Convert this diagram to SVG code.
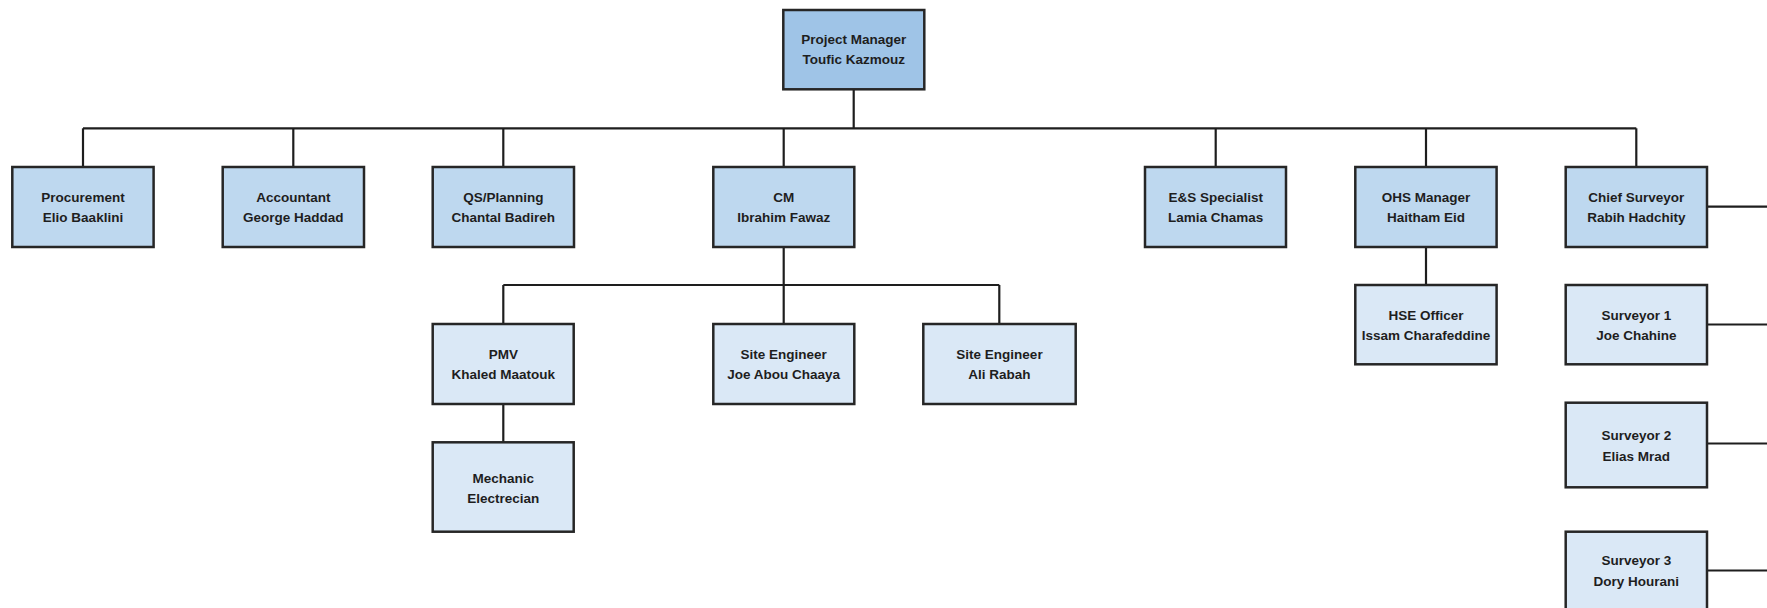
<svg xmlns="http://www.w3.org/2000/svg" width="1767" height="608" viewBox="0 0 1767 608">
<style>
.box{stroke:#262626;stroke-width:2.5}
.top{fill:#9fc4e7}
.l1{fill:#bed8ef}
.l2{fill:#dae8f6}
.lbl{font-family:"Liberation Sans",Arial,sans-serif;font-weight:bold;font-size:13.5px;fill:#1e1e1e;text-anchor:middle}
.conn{stroke:#1e1e1e;stroke-width:2.2;fill:none}
</style>
<rect width="1767" height="608" fill="#ffffff"/>
<g id="connectors" class="conn">
<line x1="853.7" y1="89" x2="853.7" y2="128.3"/>
<line x1="83" y1="128.3" x2="1636.3" y2="128.3"/>
<line x1="83" y1="128.3" x2="83" y2="167"/>
<line x1="293.3" y1="128.3" x2="293.3" y2="167"/>
<line x1="503.3" y1="128.3" x2="503.3" y2="167"/>
<line x1="783.7" y1="128.3" x2="783.7" y2="167"/>
<line x1="1215.7" y1="128.3" x2="1215.7" y2="167"/>
<line x1="1426" y1="128.3" x2="1426" y2="167"/>
<line x1="1636.3" y1="128.3" x2="1636.3" y2="167"/>
<line x1="783.7" y1="247" x2="783.7" y2="324"/>
<line x1="503.3" y1="285" x2="999.3" y2="285"/>
<line x1="503.3" y1="285" x2="503.3" y2="324"/>
<line x1="999.3" y1="285" x2="999.3" y2="324"/>
<line x1="503.3" y1="404" x2="503.3" y2="442.3"/>
<line x1="1426" y1="247" x2="1426" y2="285"/>
<line x1="1707" y1="206.7" x2="1767" y2="206.7"/>
<line x1="1707" y1="324.5" x2="1767" y2="324.5"/>
<line x1="1707" y1="443.5" x2="1767" y2="443.5"/>
<line x1="1707" y1="570.5" x2="1767" y2="570.5"/>
</g>
<g id="pm"><rect class="box top" x="783.3" y="10" width="141" height="79.3"/><text class="lbl" x="853.8" y="43.5">Project Manager</text><text class="lbl" x="853.8" y="64.3">Toufic Kazmouz</text></g>
<g id="procurement"><rect class="box l1" x="12.3" y="167" width="141.3" height="80"/><text class="lbl" x="83" y="201.7">Procurement</text><text class="lbl" x="83" y="222.3">Elio Baaklini</text></g>
<g id="accountant"><rect class="box l1" x="222.7" y="167" width="141.3" height="80"/><text class="lbl" x="293.3" y="201.7">Accountant</text><text class="lbl" x="293.3" y="222.3">George Haddad</text></g>
<g id="qs"><rect class="box l1" x="432.7" y="167" width="141.3" height="80"/><text class="lbl" x="503.3" y="201.7">QS/Planning</text><text class="lbl" x="503.3" y="222.3">Chantal Badireh</text></g>
<g id="cm"><rect class="box l1" x="713.3" y="167" width="141" height="80"/><text class="lbl" x="783.7" y="201.7">CM</text><text class="lbl" x="783.7" y="222.3">Ibrahim Fawaz</text></g>
<g id="es"><rect class="box l1" x="1145" y="167" width="141" height="80"/><text class="lbl" x="1215.7" y="201.7">E&amp;S Specialist</text><text class="lbl" x="1215.7" y="222.3">Lamia Chamas</text></g>
<g id="ohs"><rect class="box l1" x="1355.3" y="167" width="141.3" height="80"/><text class="lbl" x="1426" y="201.7">OHS Manager</text><text class="lbl" x="1426" y="222.3">Haitham Eid</text></g>
<g id="chief"><rect class="box l1" x="1565.7" y="167" width="141.3" height="80"/><text class="lbl" x="1636.3" y="201.7">Chief Surveyor</text><text class="lbl" x="1636.3" y="222.3">Rabih Hadchity</text></g>
<g id="pmv"><rect class="box l2" x="432.7" y="324" width="141" height="80"/><text class="lbl" x="503.3" y="358.7">PMV</text><text class="lbl" x="503.3" y="379.3">Khaled Maatouk</text></g>
<g id="site1"><rect class="box l2" x="713.3" y="324" width="141" height="80"/><text class="lbl" x="783.7" y="358.7">Site Engineer</text><text class="lbl" x="783.7" y="379.3">Joe Abou Chaaya</text></g>
<g id="site2"><rect class="box l2" x="923.3" y="324" width="152.4" height="80"/><text class="lbl" x="999.5" y="358.7">Site Engineer</text><text class="lbl" x="999.5" y="379.3">Ali Rabah</text></g>
<g id="mech"><rect class="box l2" x="432.7" y="442.3" width="141" height="89.4"/><text class="lbl" x="503.3" y="482.7">Mechanic</text><text class="lbl" x="503.3" y="503.3">Electrecian</text></g>
<g id="hse"><rect class="box l2" x="1355.3" y="285" width="141.3" height="79.3"/><text class="lbl" x="1426" y="319.5">HSE Officer</text><text class="lbl" x="1426" y="340.2">Issam Charafeddine</text></g>
<g id="surv1"><rect class="box l2" x="1565.7" y="285" width="141.3" height="79.3"/><text class="lbl" x="1636.3" y="319.5">Surveyor 1</text><text class="lbl" x="1636.3" y="340.2">Joe Chahine</text></g>
<g id="surv2"><rect class="box l2" x="1565.7" y="402.7" width="141.3" height="84.6"/><text class="lbl" x="1636.3" y="440">Surveyor 2</text><text class="lbl" x="1636.3" y="460.7">Elias Mrad</text></g>
<g id="surv3"><rect class="box l2" x="1565.7" y="531.7" width="141.3" height="80"/><text class="lbl" x="1636.3" y="564.5">Surveyor 3</text><text class="lbl" x="1636.3" y="585.5">Dory Hourani</text></g>
</svg>
